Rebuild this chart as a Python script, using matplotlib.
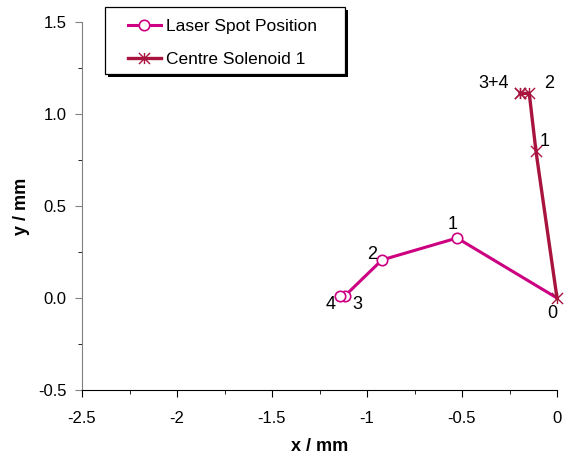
import matplotlib
matplotlib.use("Agg")
import matplotlib.pyplot as plt
from matplotlib.ticker import MultipleLocator, FormatStrFormatter, FuncFormatter
from matplotlib.path import Path
from matplotlib.patches import Rectangle

plt.rcParams['font.family'] = ['Liberation Sans', 'DejaVu Sans']

laser_x = [0.0, -0.526, -0.921, -1.116, -1.142]
laser_y = [0.0, 0.326, 0.207, 0.012, 0.012]
laser_labels = ["", "1", "2", "3", "4"]

sol_x = [0.0, -0.111, -0.146, -0.195, -0.195]
sol_y = [0.0, 0.800, 1.112, 1.112, 1.112]
sol_labels = ["0", "1", "2", "3+4", ""]

laser_color = "#CC0080"
sol_color = "#A8143E"

# asterisk marker: x plus vertical bar
ast = Path([(-1, -1), (1, 1), (-1, 1), (1, -1), (0, -1), (0, 1)],
           [Path.MOVETO, Path.LINETO, Path.MOVETO, Path.LINETO, Path.MOVETO, Path.LINETO])

fig = plt.figure(figsize=(5.81, 4.57), dpi=100)
ax = fig.add_axes([82/581, 67/457, 475/581, 368/457])

ax.plot(laser_x, laser_y, color=laser_color, lw=2.2, marker='o', ms=7.5,
        markevery=[1, 2, 3, 4], clip_on=False,
        mfc='white', mec=laser_color, mew=1.2, label="Laser Spot Position", zorder=3)
ax.plot(sol_x, sol_y, color=sol_color, lw=2.4, marker=ast, ms=8, mew=1.0,
        clip_on=False, label="Centre Solenoid 1", zorder=4)

laser_off = [(0, 0), (-3, 10), (-7, 4), (9, -6), (-7, -6)]
for x, y, t, o in zip(laser_x, laser_y, laser_labels, laser_off):
    if t:
        ax.annotate(t, (x, y), xytext=o, textcoords='offset points',
                    ha='center', va='center', fontsize=13)
sol_off = [(-3.6, -11), (6.5, 7), (14, 7), (-19, 7), (0, 0)]
for x, y, t, o in zip(sol_x, sol_y, sol_labels, sol_off):
    if t:
        ax.annotate(t, (x, y), xytext=o, textcoords='offset points',
                    ha='center', va='center', fontsize=13)

ax.set_xlim(-2.5, 0)
ax.set_ylim(-0.5, 1.5)
ax.xaxis.set_major_locator(MultipleLocator(0.5))
ax.xaxis.set_minor_locator(MultipleLocator(0.25))
ax.yaxis.set_major_locator(MultipleLocator(0.5))
ax.yaxis.set_minor_locator(MultipleLocator(0.25))
ax.xaxis.set_major_formatter(FuncFormatter(lambda v, p: "%g" % v))
ax.yaxis.set_major_formatter(FormatStrFormatter("%.1f"))
ax.tick_params(which='major', direction='out', length=5, labelsize=12, pad=6)
ax.tick_params(which='minor', direction='out', length=3)
ax.tick_params(axis='x', pad=10)
ax.tick_params(axis='y', colors='#808080', labelcolor='black')

ax.spines['top'].set_visible(False)
ax.spines['right'].set_visible(False)
ax.spines['left'].set_color('#808080')
ax.spines['bottom'].set_color('black')

ax.set_xlabel("x / mm", fontsize=13, fontweight='bold', labelpad=9)
ax.set_ylabel("y / mm", fontsize=13, fontweight='bold', labelpad=6)

# legend box with solid shadow
W, H = 581, 457
fig.patches.append(Rectangle((108/W, (H - 77)/H), 240/W, 67/H, transform=fig.transFigure,
                             facecolor='black', edgecolor='black', lw=0, zorder=5))
fig.patches.append(Rectangle((105/W, (H - 74)/H), 240/W, 67/H, transform=fig.transFigure,
                             facecolor='white', edgecolor='black', lw=0.9, zorder=6))
leg = ax.legend(loc='upper left',
                bbox_to_anchor=(128/W, (H - 19)/H), bbox_transform=fig.transFigure,
                frameon=False, fontsize=12.5, handlelength=1.9, borderpad=0,
                labelspacing=1.0, handletextpad=0.3, borderaxespad=0)
leg.set_zorder(7)
leg.remove()
fig.legends.append(leg)

fig.savefig("out.png", dpi=100)
